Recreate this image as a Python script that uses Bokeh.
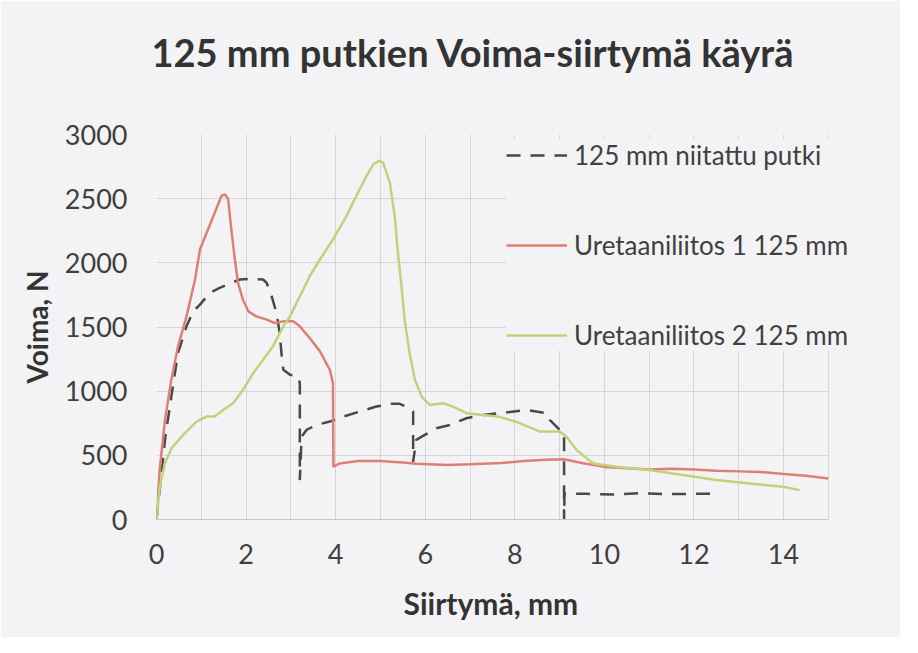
from bokeh.plotting import figure
from bokeh.models import Range1d, SingleIntervalTicker, Legend, LegendItem, BoxAnnotation, Title
from bokeh.embed import file_html
from bokeh.resources import INLINE

# --- data ---
niit_x = [0, 0.2, 0.35, 0.48, 0.67, 0.82, 0.97, 1.19, 1.41, 1.67, 1.86, 2.08, 2.38, 2.46, 2.57, 2.68,
          2.75, 2.79, 2.83, 2.98, 3.16, 3.20, 3.20, 3.24, 3.35, 3.57, 3.87, 4.17, 4.54, 4.91, 5.21,
          5.43, 5.65, 5.73, 5.73, 5.80, 5.99, 6.25, 6.55, 6.92, 7.29, 7.66, 8.26, 8.71, 8.78, 9.08,
          9.10, 9.10, 9.11, 9.6, 10.2, 10.8, 11.4, 12.0, 12.42]
niit_y = [0, 650, 1000, 1297, 1505, 1622, 1674, 1766, 1805, 1844, 1870, 1875, 1870, 1844, 1740, 1609,
          1453, 1297, 1167, 1128, 1115, 1062, 307, 646, 698, 737, 763, 802, 841, 880, 901,
          901, 867, 841, 450, 620, 659, 711, 737, 789, 815, 828, 854, 828, 776, 672,
          672, 0, 203, 200, 195, 205, 198, 200, 200]

ur1_x = [0, 0.07, 0.19, 0.33, 0.48, 0.67, 0.86, 0.97, 1.12, 1.30, 1.45, 1.53, 1.60, 1.67, 1.75, 1.82,
         1.93, 2.05, 2.23, 2.46, 2.64, 2.83, 3.05, 3.20, 3.42, 3.65, 3.87, 3.94, 3.95, 4.09, 4.5,
         5.0, 5.5, 5.8, 6.5, 7.0, 7.7, 8.2, 8.7, 9.1, 9.5, 10.0, 10.5, 11.0, 11.5, 12.0, 12.5,
         13.0, 13.5, 14.0, 14.5, 15.0]
ur1_y = [0, 385, 776, 1088, 1349, 1583, 1870, 2104, 2234, 2390, 2521, 2534, 2495, 2260, 2026, 1844,
         1713, 1622, 1583, 1557, 1531, 1544, 1544, 1505, 1414, 1310, 1167, 1062, 411, 437, 455,
         455, 445, 435, 425, 430, 440, 455, 465, 470, 440, 410, 400, 390, 395, 390, 380,
         375, 370, 355, 340, 320]

ur2_x = [0, 0.074, 0.186, 0.335, 0.595, 0.893, 1.116, 1.30, 1.49, 1.71, 1.93, 2.16, 2.38, 2.60, 2.83,
         2.98, 3.20, 3.42, 3.65, 3.94, 4.24, 4.46, 4.69, 4.84, 4.97, 5.06, 5.21, 5.32, 5.39, 5.47,
         5.54, 5.65, 5.77, 5.92, 6.10, 6.40, 6.62, 6.92, 7.29, 7.66, 8.04, 8.56, 9.0, 9.15, 9.38,
         9.75, 10.27, 11.0, 11.75, 12.5, 13.24, 13.99, 14.36]
ur2_y = [0, 255, 437, 555, 659, 763, 802, 802, 854, 906, 1010, 1141, 1245, 1349, 1505,
         1583, 1739, 1896, 2026, 2182, 2364, 2521, 2677, 2768, 2794, 2781, 2625, 2364, 2078, 1818,
         1557, 1297, 1088, 958, 893, 906, 880, 828, 815, 800, 760, 685, 685, 646, 542,
         437, 411, 385, 346, 307, 281, 255, 229]

labels = ["125 mm niitattu putki", "Uretaaniliitos 1 125 mm", "Uretaaniliitos 2 125 mm"]
title_text = "125 mm putkien Voima-siirtymä käyrä"
x_title = "Siirtymä, mm"
y_title = "Voima, N"
x_max = 15

FONT = "Lato"
BG = "#f3f3f5"
TXT = "#404040"

# frame reaches a bit past x_max so the legend may overhang the plot area (as in the original)
p = figure(width=900, height=637, output_backend="svg", toolbar_location=None,
           x_range=Range1d(0, 16.5), y_range=Range1d(0, 3000),
           min_border_left=156, min_border_right=5, min_border_top=134, min_border_bottom=118)
p.background_fill_color = BG
p.border_fill_color = BG
p.outline_line_color = None

p.title.text = title_text + "\n"
p.title.text_font = FONT
p.title.text_font_size = "38px"
p.title.text_font_style = "bold"
p.title.text_color = "#333333"
p.title.align = "left"
p.title.offset = -5
p.title.standoff = 28

# axes
p.xaxis.ticker = SingleIntervalTicker(interval=2)
p.yaxis.ticker = SingleIntervalTicker(interval=500)
p.xgrid.ticker = SingleIntervalTicker(interval=1)
p.ygrid.ticker = SingleIntervalTicker(interval=500)
p.xaxis.bounds = (0, x_max)
p.xgrid.bounds = (0, x_max)
for ax in (p.xaxis[0], p.yaxis[0]):
    ax.major_tick_line_color = None
    ax.minor_tick_line_color = None
    ax.major_label_text_font = FONT
    ax.major_label_text_font_size = "27px"
    ax.major_label_text_color = TXT
p.xaxis.axis_line_color = "#c8c8c8"
p.yaxis.axis_line_color = None
p.yaxis.axis_label = y_title
p.yaxis.axis_label_text_font = FONT
p.yaxis.axis_label_text_font_style = "bold"
p.yaxis.axis_label_text_color = "#333333"
p.yaxis.axis_label_text_font_size = "28px"
p.xaxis.major_label_standoff = 18
p.yaxis.major_label_standoff = 23
p.yaxis.axis_label_standoff = 8
p.xgrid.grid_line_color = "#d6d6d6"
p.ygrid.grid_line_color = "#d6d6d6"

# x-axis title, centred under the 0..15 plot area
p.add_layout(Title(text=x_title, text_font=FONT, text_font_size="30px", text_font_style="bold",
                   text_color="#333333", align="left", offset=247, standoff=32), "below")

# hide the horizontal grid beyond the plot area's right edge
p.add_layout(BoxAnnotation(left=x_max + 0.015, fill_color=BG, fill_alpha=1.0,
                           line_color=None, level="underlay"))

r_n = p.line(niit_x, niit_y, line_color="#484848", line_width=2.5, line_dash="14 10")
r_1 = p.line(ur1_x, ur1_y, line_color="#dd7f72", line_width=2.5)
r_2 = p.line(ur2_x, ur2_y, line_color="#bdd47a", line_width=2.5)

legend = Legend(items=[LegendItem(label=labels[0], renderers=[r_n]),
                       LegendItem(label=labels[1], renderers=[r_1]),
                       LegendItem(label=labels[2], renderers=[r_2])],
                location=(350, 168), padding=25, spacing=58, margin=0,
                glyph_width=61, glyph_height=30, label_height=30, label_standoff=7,
                label_text_font=FONT, label_text_font_size="26px", label_text_color=TXT,
                background_fill_color=BG, background_fill_alpha=1.0,
                border_line_color=None)
p.add_layout(legend)

open("out.html", "w").write(file_html(p, INLINE))
